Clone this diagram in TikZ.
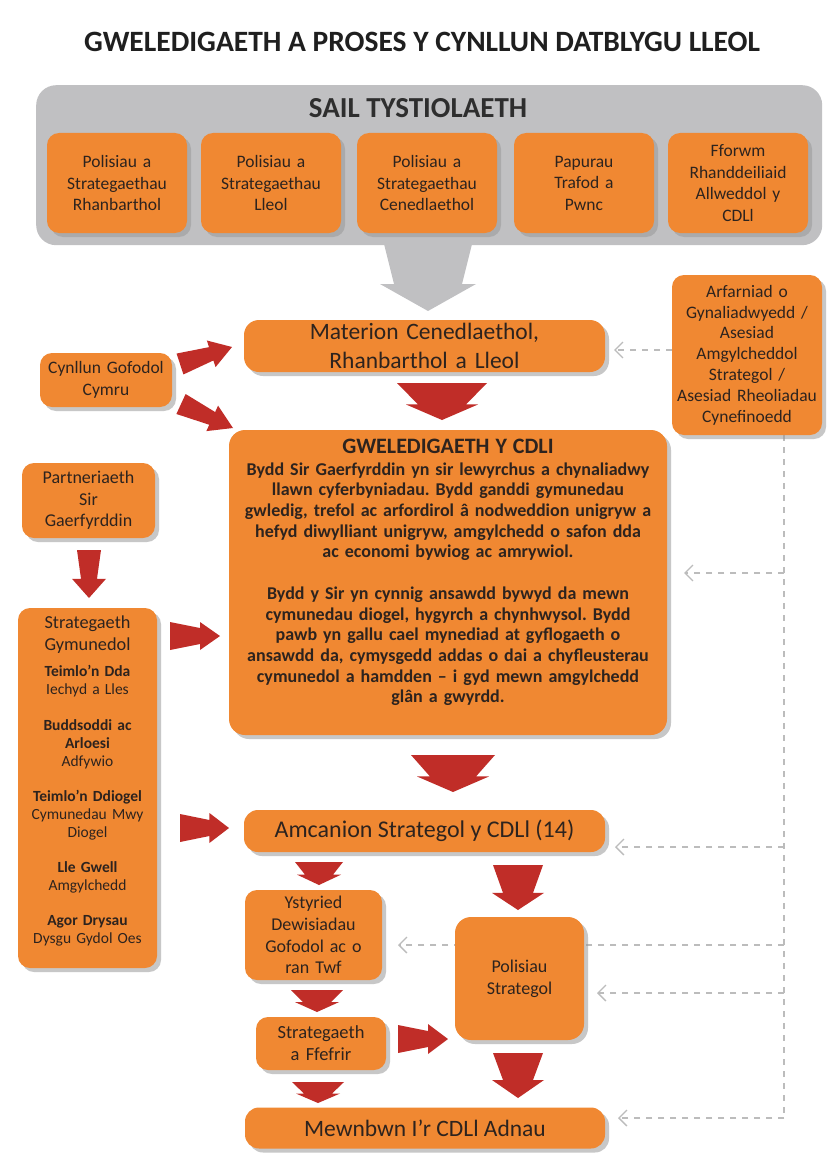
\documentclass[tikz,border=0pt]{standalone}
\usepackage{fontspec}
\setmainfont{Carlito}
\frenchspacing
\usetikzlibrary{calc,shadows,arrows.meta}
\definecolor{orng}{RGB}{240,136,50}
\definecolor{redarr}{RGB}{192,45,40}
\definecolor{greyb}{RGB}{192,192,194}
\definecolor{txt}{RGB}{45,35,30}
\definecolor{dashc}{RGB}{188,188,188}
\tikzset{
  box/.style={fill=orng, rounded corners=12pt, align=center, text=txt, inner sep=0pt,
    drop shadow={shadow xshift=4pt, shadow yshift=-4pt, fill=black!40, opacity=0.55}},
  dashln/.style={draw=dashc, line width=2.2pt, dash pattern=on 6pt off 6pt},
  dasharr/.style={dashln, -{Straight Barb[length=8pt,width=16pt,line width=1.3pt]}}
}
% tail, tip, tail half width, neck half width, head half width, neck fraction
\newcommand{\fatarrow}[7][redarr]{%
  \coordinate (fa-n) at ($(#2)!#7!(#3)$);
  \fill[#1] ($(#2)!#4!90:(#3)$) -- ($(fa-n)!#5!90:(#3)$) -- ($(fa-n)!#6!90:(#3)$) -- (#3)
    -- ($(fa-n)!#6!-90:(#3)$) -- ($(fa-n)!#5!-90:(#3)$) -- ($(#2)!#4!-90:(#3)$) -- cycle;}
\begin{document}
\begin{tikzpicture}[x=1pt,y=-1pt]
\useasboundingbox (0,0) rectangle (832,1153);
\fill[white] (0,0) rectangle (832,1153);

\node[font=\bfseries\fontsize{29.5}{34}\selectfont, text=black!88] (title) at (422,42)
  {GWELEDIGAETH A PROSES Y CYNLLUN DATBLYGU LLEOL};

% evidence base
\node[fill=greyb, rounded corners=20pt, minimum width=786pt, minimum height=160pt,
  anchor=north west, inner sep=0pt] (sail) at (36,85) {};
\fill[greyb] (383,240) -- (473,240) -- (462,284) -- (476,284) -- (428,311) -- (380,284) -- (394,284) -- cycle;
\node[font=\bfseries\fontsize{29}{32}\selectfont, text=black!82] (sailt) at (418,108) {SAIL TYSTIOLAETH};

\tikzset{topbox/.style={box, minimum width=140pt, minimum height=100pt, text width=138pt,
  font=\fontsize{17.5}{21.5}\selectfont}}
\node[topbox] (t1) at (117,183) {Polisiau a\\Strategaethau\\Rhanbarthol};
\node[topbox] (t2) at (271,183) {Polisiau a\\Strategaethau\\Lleol};
\node[topbox] (t3) at (427,183) {Polisiau a\\Strategaethau\\Cenedlaethol};
\node[topbox] (t4) at (584,183) {Papurau\\Trafod a\\Pwnc};
\node[topbox] (t5) at (738,183) {Fforwm\\Rhanddeiliaid\\Allweddol y\\CDLl};

% dashed feedback lines (drawn first, behind boxes)
\coordinate (vtop) at (784,435);
\coordinate (v1) at (784,573);
\coordinate (v2) at (784,847);
\coordinate (v3) at (784,945);
\coordinate (v4) at (784,993);
\coordinate (v5) at (784,1118);
\draw[dashln] (vtop) -- (v5);

% right box
\node[box, minimum width=150pt, minimum height=160pt, text width=150pt,
  font=\fontsize{17.5}{20.8}\selectfont] (sea) at (747,355)
  {Arfarniad o\\Gynaliadwyedd /\\Asesiad\\Amgylcheddol\\Strategol /\\Asesiad Rheoliadau\\Cynefinoedd};

% main column
\node[box, rounded corners=15pt, minimum width=361pt, minimum height=52pt, text width=355pt,
  font=\fontsize{23.5}{29}\selectfont] (mat) at (424.5,346) {Materion Cenedlaethol,\\Rhanbarthol a Lleol};

\node[box, minimum width=132pt, minimum height=54pt, text width=132pt,
  font=\fontsize{17.5}{22}\selectfont] (cgc) at (106,380) {Cynllun Gofodol\\Cymru};

\node[box, rounded corners=16pt, minimum width=438pt, minimum height=305pt, text width=436pt,
  font=\bfseries\fontsize{18}{20.7}\selectfont] (gwel) at (448,582.5)
  {{\fontsize{22}{20.7}\selectfont GWELEDIGAETH Y CDLI}\\[1pt]
   Bydd Sir Gaerfyrddin yn sir lewyrchus a chynaliadwy\\
   llawn cyferbyniadau. Bydd ganddi gymunedau\\
   gwledig, trefol ac arfordirol â nodweddion unigryw a\\
   hefyd diwylliant unigryw, amgylchedd o safon dda\\
   ac economi bywiog ac amrywiol.\\[20.7pt]
   Bydd y Sir yn cynnig ansawdd bywyd da mewn\\
   cymunedau diogel, hygyrch a chynhwysol. Bydd\\
   pawb yn gallu cael mynediad at gyflogaeth o\\
   ansawdd da, cymysgedd addas o dai a chyfleusterau\\
   cymunedol a hamdden – i gyd mewn amgylchedd\\
   glân a gwyrdd.\par\vspace{20pt}};

\node[box, minimum width=133pt, minimum height=75pt, text width=130pt,
  font=\fontsize{18}{21.5}\selectfont] (part) at (88.5,500.5) {Partneriaeth\\Sir\\Gaerfyrddin};

\node[box, minimum width=139pt, minimum height=360pt, text width=138pt,
  font=\fontsize{15.5}{17.8}\selectfont] (sgym) at (87.5,788)
  {{\fontsize{18.3}{22}\selectfont Strategaeth}\\[4pt]{\fontsize{18.3}{22}\selectfont Gymunedol}\\[9pt]
   \textbf{Teimlo'n Dda}\\Iechyd a Lles\\[18pt]
   \textbf{Buddsoddi ac}\\\textbf{Arloesi}\\Adfywio\\[18pt]
   \textbf{Teimlo'n Ddiogel}\\Cymunedau Mwy\\Diogel\\[17pt]
   \textbf{Lle Gwell}\\Amgylchedd\\[18pt]
   \textbf{Agor Drysau}\\Dysgu Gydol Oes\par\vspace{14pt}};

\node[box, rounded corners=14pt, minimum width=361pt, minimum height=42pt,
  font=\fontsize{24}{26}\selectfont] (amc) at (424.5,831) {Amcanion Strategol y CDLl (14)};

\draw[dasharr, shorten >=2pt] (v3) -- (396,945);

\node[box, minimum width=137pt, minimum height=90pt, text width=136pt,
  font=\fontsize{18}{21.7}\selectfont] (ystr) at (313.5,935) {Ystyried\\Dewisiadau\\Gofodol ac o\\ran Twf};

\node[box, rounded corners=16pt, minimum width=129pt, minimum height=123pt, text width=126pt,
  font=\fontsize{18}{22}\selectfont] (pol) at (519.5,978.5) {Polisiau\\Strategol};

\node[box, minimum width=130pt, minimum height=53pt, text width=128pt,
  font=\fontsize{18.5}{22}\selectfont] (sff) at (321,1043.5) {Strategaeth\\a Ffefrir};

\node[box, rounded corners=14pt, minimum width=360pt, minimum height=41pt,
  font=\fontsize{23.5}{26}\selectfont] (mew) at (425,1128) {Mewnbwn I'r CDLl Adnau};

% dashed arrows into boxes
\draw[dasharr] (sea.west |- 0,350) -- (614,350);
\draw[dasharr] (v1) -- (684,573);
\draw[dasharr] (v2) -- (615,847);
\draw[dasharr] (v4) -- (597,993);
\draw[dasharr] (v5) -- (618,1118);

% red arrows
\fatarrow{180,364}{232,347}{11pt}{7pt}{14pt}{0.6}
\fatarrow{181,404}{233,428}{11pt}{7pt}{14pt}{0.6}
\fatarrow{442,383}{442,420}{45pt}{24pt}{36pt}{0.58}
\fatarrow{89,550}{89,598}{12pt}{8pt}{17pt}{0.6}
\fatarrow{170,636}{220,636}{14pt}{8pt}{14pt}{0.6}
\fatarrow{453,755}{453,792}{42pt}{23pt}{36pt}{0.58}
\fatarrow{180,828}{229,828}{14pt}{8pt}{15pt}{0.6}
\fatarrow{319,862}{319,885}{24pt}{14pt}{22pt}{0.55}
\fatarrow{518,865}{518,910}{25pt}{15pt}{26pt}{0.62}
\fatarrow{317,990}{317,1012}{26pt}{14pt}{22pt}{0.55}
\fatarrow{398,1039}{448,1039}{14pt}{8pt}{15pt}{0.6}
\fatarrow{518,1053}{518,1098}{25pt}{15pt}{26pt}{0.6}
\fatarrow{318,1082}{318,1103}{26pt}{14pt}{22pt}{0.55}
\end{tikzpicture}
\end{document}
